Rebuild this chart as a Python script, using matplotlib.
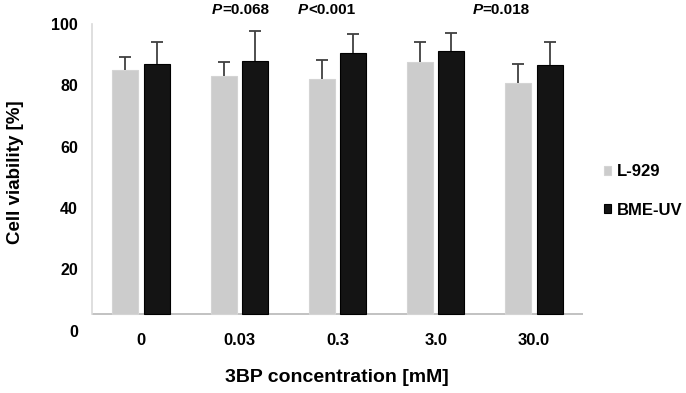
import numpy as np
import matplotlib
matplotlib.use('Agg')
import matplotlib.pyplot as plt

plt.rcParams['font.family'] = ['Liberation Sans', 'DejaVu Sans']
plt.rcParams['font.weight'] = 'bold'

concentrations = ['0', '0.03', '0.3', '3.0', '30.0']
series_names = ['L-929', 'BME-UV']
l929_mean = [85.1, 82.9, 82.2, 87.6, 80.8]
l929_sd = [4.2, 4.7, 6.2, 6.4, 6.0]
bme_mean = [86.9, 88.0, 90.6, 91.2, 86.7]
bme_sd = [7.2, 9.8, 6.0, 5.9, 7.4]
# p-value notes: (x position in category units, prefix, value)
p_notes = [(0.825, 'P', '=0.068'), (1.70, 'P', '<0.001'), (3.48, 'P', '=0.018')]
baseline = 5.4

fig = plt.figure(figsize=(6.86, 3.93), dpi=100)
ax = fig.add_axes([0.1341, 0.159, 0.7158, 0.780])

x = np.arange(len(concentrations))
w = 0.265
off = 0.16
b1 = ax.bar(x - off, np.array(l929_mean) - baseline, w, bottom=baseline,
            color='#cccccc', edgecolor='#d4d4d4', linewidth=0.8, label=series_names[0], zorder=2)
b2 = ax.bar(x + off, np.array(bme_mean) - baseline, w, bottom=baseline,
            color='#141414', edgecolor='#000000', linewidth=0.8, label=series_names[1], zorder=2)

# upper error bars only, no cap at the bar top
for xs, m, sd in [(x - off, l929_mean, l929_sd), (x + off, bme_mean, bme_sd)]:
    eb = ax.errorbar(xs, m, yerr=[np.zeros(len(x)), sd], fmt='none',
                     ecolor='#404040', elinewidth=1.3, capsize=4, capthick=1.3, zorder=3)
    eb[1][0].set_visible(False)

ax.axhline(baseline, color='#b8b8b8', lw=1.2, zorder=1)
ax.set_xlim(-0.5, len(x) - 0.5)
ax.set_ylim(0, 100)
ax.set_yticks([0, 20, 40, 60, 80, 100])
ax.set_xticks(x)
ax.set_xticklabels(concentrations, fontsize=12, fontweight='bold')
ax.tick_params(axis='y', length=0, pad=10, labelsize=11.5)
ax.tick_params(axis='x', length=0, pad=2)
for s in ['top', 'right', 'bottom']:
    ax.spines[s].set_visible(False)
ax.spines['left'].set_color('#d9d9d9')
ax.spines['left'].set_linewidth(1.2)
ax.spines['left'].set_bounds(baseline, 100)

for xp, pre, rest in p_notes:
    ax.text(xp, 104.6, pre, ha='right', va='center', fontsize=11,
            fontweight='bold', fontstyle='italic', clip_on=False)
    ax.text(xp, 104.6, rest, ha='left', va='center', fontsize=11,
            fontweight='bold', clip_on=False)

fig.text(16 / 686, 1 - 172 / 393, 'Cell viability [%]', rotation=90, ha='center',
         va='center', fontsize=13.5, fontweight='bold')
fig.text(337 / 686, 1 - 378 / 393, '3BP concentration [mM]', ha='center',
         va='center', fontsize=14, fontweight='bold')

fig.legend(handles=[b1, b2], loc='center left', bbox_to_anchor=(0.880, 0.514),
           frameon=False, fontsize=12, handlelength=0.45, handleheight=0.45,
           handletextpad=0.35, labelspacing=1.4, borderpad=0, borderaxespad=0)

fig.savefig('out.png', dpi=100)
